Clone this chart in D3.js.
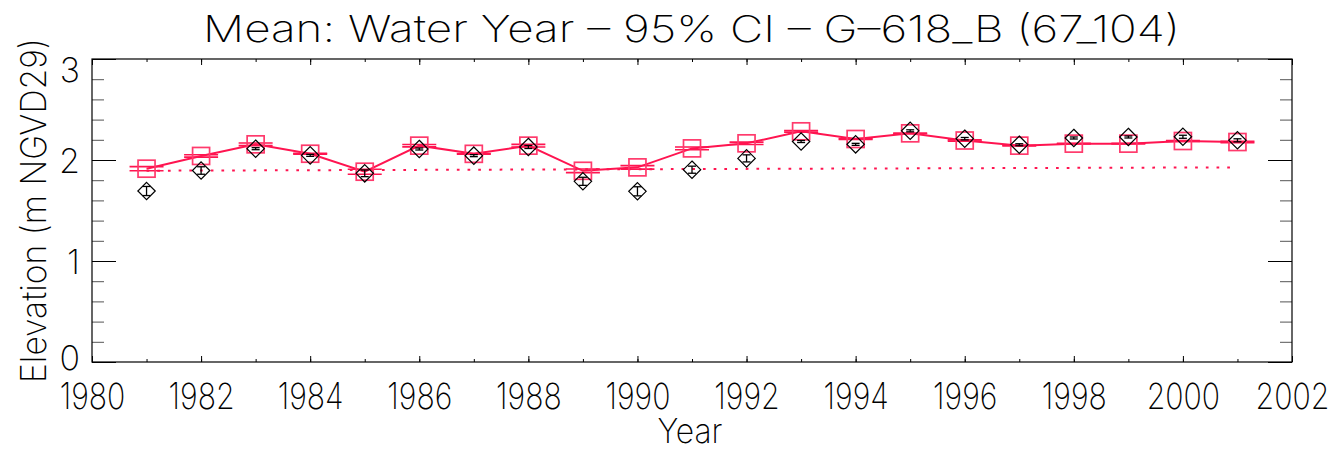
<!DOCTYPE html>
<html>
<head>
<meta charset="utf-8">
<script src="https://cdn.jsdelivr.net/npm/d3@7/dist/d3.min.js"></script>
<style>
  html, body { margin: 0; padding: 0; background: #fff; }
  svg { display: block; }
  text { font-family: Inter, "DejaVu Sans", sans-serif; font-weight: 150; fill: #000; }
</style>
</head>
<body>
<svg id="chart" width="1336" height="450"></svg>
<script>
// Water-year means, 1981-2001
const years = [1981, 1982, 1983, 1984, 1985, 1986, 1987, 1988, 1989, 1990, 1991,
               1992, 1993, 1994, 1995, 1996, 1997, 1998, 1999, 2000, 2001];

// Red series: mean (squares + line) and 95% CI half-width (horizontal bars)
const redMean = [1.914, 2.040, 2.155, 2.062, 1.884, 2.142, 2.061, 2.142, 1.893, 1.927, 2.115,
                 2.165, 2.284, 2.208, 2.264, 2.193, 2.142, 2.162, 2.162, 2.188, 2.178];
const redCI   = [0.020, 0.012, 0.013, 0.004, 0.025, 0.012, 0.004, 0.013, 0.018, 0.017, 0.013,
                 0.012, 0.008, 0.004, 0.004, 0.006, 0.004, 0.004, 0.004, 0.005, 0.006];

// Black series: mean (diamonds) and 95% CI half-width (vertical bars)
const blackMean = [1.693, 1.896, 2.112, 2.046, 1.868, 2.109, 2.043, 2.129, 1.789, 1.690, 1.904,
                   2.016, 2.183, 2.155, 2.289, 2.211, 2.151, 2.218, 2.228, 2.230, 2.195];
const blackCI   = [0.045, 0.037, 0.010, 0.010, 0.033, 0.010, 0.010, 0.015, 0.040, 0.045, 0.035,
                   0.035, 0.010, 0.010, 0.010, 0.012, 0.010, 0.010, 0.010, 0.015, 0.015];

// Linear trend (dotted), end points
const trendYears  = [1981, 2001];
const trendValues = [1.894, 1.927];

// Axis ticks
const xTickValues = [1980, 1982, 1984, 1986, 1988, 1990, 1992, 1994, 1996, 1998, 2000, 2002];
const yTickValues = [0, 1, 2, 3];

const titleText = "Mean: Water Year \u2013 95% CI \u2013 G\u2013618_B (67_104)";
const xTitle = "Year";
const yTitle = "Elevation (m NGVD29)";

const RED = "#ff1450";
const PINK = "#ff3a6c";
const FONT = 'Inter, "DejaVu Sans", sans-serif';
const WEIGHT = 150;

const svg = d3.select("#chart");
const mLeft = 92, mRight = 1292, mTop = 59, mBottom = 362;

const x = d3.scaleLinear().domain([1980, 2002]).range([mLeft, mRight]);
const y = d3.scaleLinear().domain([0, 3]).range([mBottom, mTop]);

// Title
svg.append("text")
  .attr("x", 203).attr("y", 42)
  .attr("font-size", 37)
  .attr("textLength", 977).attr("lengthAdjust", "spacingAndGlyphs")
  .text(titleText);

// Axis titles
svg.append("text")
  .attr("x", 690).attr("y", 443)
  .attr("text-anchor", "middle")
  .attr("font-size", 34)
  .attr("textLength", 65).attr("lengthAdjust", "spacingAndGlyphs")
  .text(xTitle);

svg.append("text")
  .attr("transform", `translate(46, ${(mTop + mBottom) / 2}) rotate(-90)`)
  .attr("text-anchor", "middle")
  .attr("font-size", 35)
  .attr("textLength", 345).attr("lengthAdjust", "spacingAndGlyphs")
  .text(yTitle);

// Frame axes: ticks drawn inward on all four sides
const g = svg.append("g");
const axisStyle = sel => {
  sel.select(".domain").remove();
  sel.selectAll(".tick line").attr("stroke", "#000").attr("stroke-width", 1);
};

const xMinor = d3.range(1980, 2003, 1);
const yMinor = d3.range(0, 3.0001, 0.2);

// bottom
g.append("g").attr("transform", `translate(0,${mBottom})`)
  .call(d3.axisBottom(x).tickValues(xMinor).tickSize(-3).tickFormat(""))
  .call(axisStyle);
g.append("g").attr("transform", `translate(0,${mBottom})`)
  .call(d3.axisBottom(x).tickValues(xTickValues).tickSize(-6).tickFormat(d3.format("d")).tickPadding(0))
  .call(axisStyle)
  .call(s => s.selectAll(".tick text")
    .attr("font-size", 36).attr("y", null).attr("dy", null)
    .attr("transform", "translate(0,47) scale(0.84,1)")
    .attr("font-family", FONT).attr("font-weight", WEIGHT).attr("fill", "#000"));
// top
g.append("g").attr("transform", `translate(0,${mTop})`)
  .call(d3.axisTop(x).tickValues(xMinor).tickSize(-3).tickFormat(""))
  .call(axisStyle);
g.append("g").attr("transform", `translate(0,${mTop})`)
  .call(d3.axisTop(x).tickValues(xTickValues).tickSize(-6).tickFormat(""))
  .call(axisStyle);
// left
g.append("g").attr("transform", `translate(${mLeft},0)`)
  .call(d3.axisLeft(y).tickValues(yMinor).tickSize(-12).tickFormat(""))
  .call(axisStyle)
  .call(s => s.selectAll(".tick line").attr("stroke", "#555"));
g.append("g").attr("transform", `translate(${mLeft},0)`)
  .call(d3.axisLeft(y).tickValues(yTickValues).tickSize(-24).tickFormat(d3.format("d")).tickPadding(12))
  .call(axisStyle)
  .call(s => s.selectAll(".tick text")
    // keep the end labels inside the frame's vertical extent
    .attr("y", d => Math.min(Math.max(y(d), mTop + 10), mBottom - 5) - y(d))
    .attr("font-size", 34).attr("dy", "0.36em")
    .attr("font-family", FONT).attr("font-weight", WEIGHT).attr("fill", "#000"));
// right
g.append("g").attr("transform", `translate(${mRight},0)`)
  .call(d3.axisRight(y).tickValues(yMinor).tickSize(-12).tickFormat(""))
  .call(axisStyle)
  .call(s => s.selectAll(".tick line").attr("stroke", "#555"));
g.append("g").attr("transform", `translate(${mRight},0)`)
  .call(d3.axisRight(y).tickValues(yTickValues).tickSize(-24).tickFormat(""))
  .call(axisStyle);

// Frame
svg.append("rect")
  .attr("x", mLeft).attr("y", mTop)
  .attr("width", mRight - mLeft).attr("height", mBottom - mTop)
  .attr("fill", "none").attr("stroke", "#000").attr("stroke-width", 1.2);

const plot = svg.append("g");

// Trend line (dotted)
plot.append("line")
  .attr("x1", x(trendYears[0])).attr("y1", y(trendValues[0]))
  .attr("x2", x(trendYears[1])).attr("y2", y(trendValues[1]))
  .attr("stroke", RED).attr("stroke-width", 2)
  .attr("stroke-dasharray", "2.7 8");

const red = years.map((yr, i) => ({ yr, m: redMean[i], c: redCI[i] }));
const blk = years.map((yr, i) => ({ yr, m: blackMean[i], c: blackCI[i] }));

// Red mean line
plot.append("path")
  .datum(red)
  .attr("fill", "none").attr("stroke", RED).attr("stroke-width", 2)
  .attr("d", d3.line().x(d => x(d.yr)).y(d => y(d.m)));

// Red CI bars (horizontal at upper and lower bound)
const ciHalf = 17;
red.forEach(d => {
  [d.m + d.c, d.m - d.c].forEach(v => {
    plot.append("line")
      .attr("x1", x(d.yr) - ciHalf).attr("x2", x(d.yr) + ciHalf)
      .attr("y1", y(v)).attr("y2", y(v))
      .attr("stroke", RED).attr("stroke-width", 1.6);
  });
});

// Red squares
const sq = 17;
plot.selectAll("rect.sq").data(red).join("rect")
  .attr("class", "sq")
  .attr("x", d => x(d.yr) - sq / 2).attr("y", d => y(d.m) - sq / 2)
  .attr("width", sq).attr("height", sq)
  .attr("fill", "none").attr("stroke", PINK).attr("stroke-width", 1.7);

// Black CI bars (vertical with caps)
blk.forEach(d => {
  const cx = x(d.yr), y1 = y(d.m + d.c), y2 = y(d.m - d.c);
  plot.append("line").attr("x1", cx).attr("x2", cx).attr("y1", y1).attr("y2", y2)
    .attr("stroke", "#000").attr("stroke-width", 1.3);
  [y1, y2].forEach(yy => plot.append("line")
    .attr("x1", cx - 4).attr("x2", cx + 4).attr("y1", yy).attr("y2", yy)
    .attr("stroke", "#000").attr("stroke-width", 1.3));
});

// Black diamonds
const dh = 8.7;
plot.selectAll("path.dm").data(blk).join("path")
  .attr("class", "dm")
  .attr("d", d => {
    const cx = x(d.yr), cy = y(d.m);
    return `M${cx},${cy - dh}L${cx + dh},${cy}L${cx},${cy + dh}L${cx - dh},${cy}Z`;
  })
  .attr("fill", "none").attr("stroke", "#000").attr("stroke-width", 1.2);
</script>
</body>
</html>
